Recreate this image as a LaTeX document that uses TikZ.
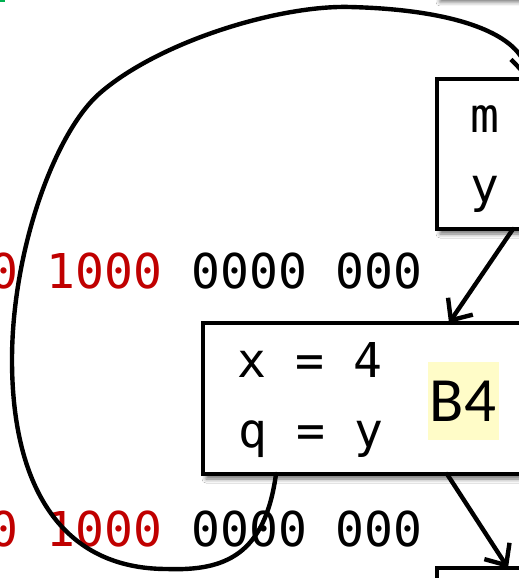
\documentclass[tikz,border=0pt]{standalone}
\usepackage{fontspec}
\newfontfamily\mono{DejaVu Sans Mono}
\newfontfamily\carl{Carlito}
\usetikzlibrary{arrows.meta,shadows.blur}
\definecolor{bitred}{RGB}{192,0,0}
\definecolor{hl}{RGB}{255,252,200}
\definecolor{slidegreen}{RGB}{0,176,80}
\begin{document}
\begin{tikzpicture}[x=1pt,y=-1pt,
  blk/.style={draw=black, line width=3.3pt, fill=white, rectangle, inner sep=0pt, outer sep=0pt,
    anchor=north west,
    blur shadow={shadow xshift=3pt, shadow yshift=-5pt, shadow blur radius=4pt, shadow opacity=55}},
  code/.style={font=\mono\fontsize{48}{48}\selectfont, inner sep=0pt, anchor=base},
  conn/.style={line width=4.4pt, line cap=round, -{Straight Barb[length=17pt,width=30pt]}},
]
\useasboundingbox (0,0) rectangle (519,578);
\clip (0,0) rectangle (519,578);
\fill[white] (0,0) rectangle (519,578);
\fill[slidegreen] (0,0) rectangle (5,2);

% binary rows
\node[code, anchor=base west] (row1) at (-11,288) {\textcolor{bitred}{0 1000} 0000 000};
\node[code, anchor=base west] (row2) at (-11,546) {\textcolor{bitred}{0 1000} 0000 000};

% boxes
\node[blk, minimum width=200pt, minimum height=147pt] (topbox) at (437,-150) {};
\node[blk, minimum width=250pt, minimum height=150pt] (mbox) at (437,79) {};
\node[blk, minimum width=400pt, minimum height=151pt] (b4) at (203,323) {};
\node[blk, minimum width=200pt, minimum height=100pt] (nextbox) at (437,568) {};

% texts in boxes
\node[code] (mtxt) at (485,132) {m};
\node[code] (ytxt) at (485,202) {y};
\node[code] (xline) at (310,377) {x = 4};
\node[code] (qline) at (311,447) {q = y};
\node[fill=hl, inner sep=0pt, minimum width=71pt, minimum height=78pt,
      font=\carl\fontsize{63}{63}\selectfont] (b4lbl) at (463,401) {B4};

% connectors
\draw[conn] ([xshift=76pt]mbox.south west) -- ([xshift=246pt]b4.north west);
\draw[conn] ([xshift=244pt]b4.south west) -- ([xshift=71pt]nextbox.north west);
\draw[conn] ([xshift=73pt]b4.south west)
  .. controls (265,555) and (225,571) .. (167,569)
  .. controls (57,569) and (12,480) .. (12,360)
  .. controls (12,250) and (55,132) .. (100,93)
  .. controls (160,41) and (280,5) .. (350,7)
  .. controls (470,10) and (525,40) .. ([xshift=90pt]mbox.north west);
\end{tikzpicture}
\end{document}
